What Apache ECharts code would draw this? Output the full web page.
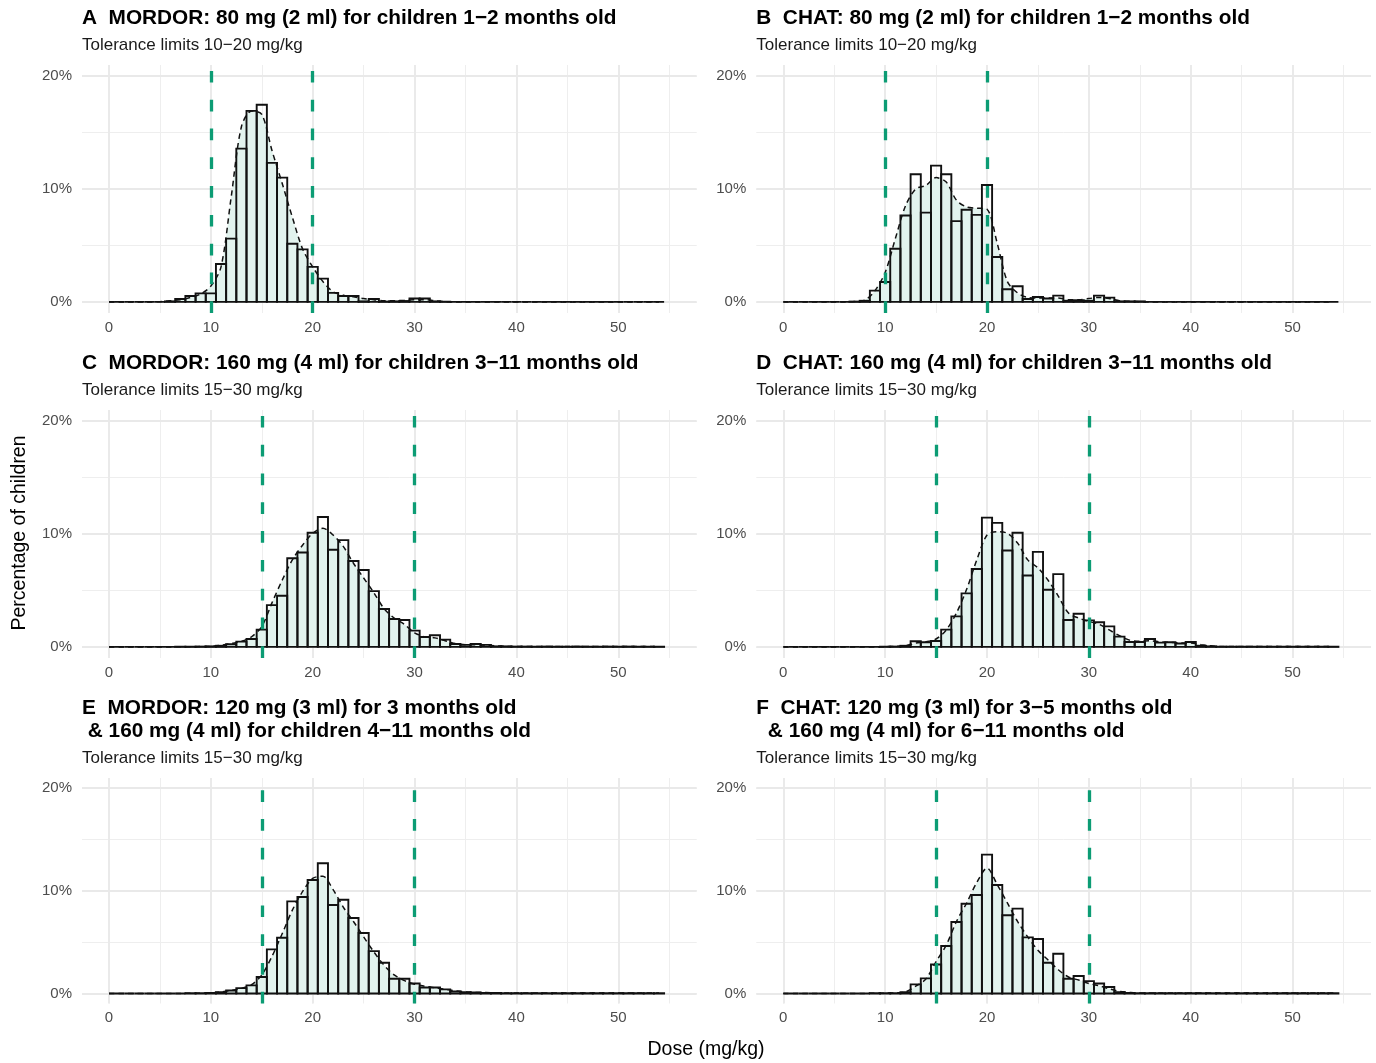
<!DOCTYPE html>
<html><head><meta charset="utf-8">
<script src="https://cdn.jsdelivr.net/npm/echarts@6/dist/echarts.min.js"></script>
<style>html,body{margin:0;padding:0;background:#fff}#c{width:1376px;height:1063px}</style>
</head><body><div id="c"></div>
<script>
// ---------- data ----------
const doses = [0,1,2,3,4,5,6,7,8,9,10,11,12,13,14,15,16,17,18,19,20,21,22,23,24,25,26,27,28,29,
  30,31,32,33,34,35,36,37,38,39,40,41,42,43,44,45,46,47,48,49,50,51,52,53,54];

const histA = [0,0,0,0,0,0,0.05,0.26,0.53,0.76,
  0.76,3.35,5.6,13.56,16.9,17.44,12.3,11.0,5.15,4.65,
  3.1,2.06,0.8,0.53,0.53,0.05,0.26,0.03,0.05,0.08,
  0.3,0.3,0.05,0.02,0,0,0,0,0,0,
  0,0,0,0,0,0,0,0,0,0,
  0,0,0,0,0];
const densA = [0,0,0,0,0,0.02,0.1,0.2,0.4,0.7,
  1.4,3.1,9.3,15.5,16.9,16.6,13.4,10.5,7.5,4.7,
  3.1,1.8,0.9,0.6,0.45,0.3,0.2,0.1,0.1,0.15,
  0.2,0.2,0.1,0.02,0,0,0,0,0,0,
  0,0,0,0,0,0,0,0,0,0,
  0,0,0,0,0];

const histB = [0,0,0,0,0,0,0,0.03,0.1,1.0,
  1.76,4.7,7.65,11.3,7.9,12.06,11.3,7.15,8.15,7.7,
  10.35,3.97,1.12,1.38,0.26,0.44,0.3,0.56,0.1,0.15,
  0.1,0.56,0.38,0.05,0.05,0.05,0,0,0,0,
  0,0,0,0,0,0,0,0,0,0,
  0,0,0,0,0];
const densB = [0,0,0,0,0,0,0,0.03,0.15,1.0,
  2.6,5.6,8.5,10.0,10.3,11.0,10.6,9.0,8.4,8.3,
  8.2,5.2,1.8,0.8,0.4,0.35,0.35,0.35,0.2,0.2,
  0.3,0.4,0.3,0.1,0.05,0.02,0,0,0,0,
  0,0,0,0,0,0,0,0,0,0,
  0,0,0,0,0];

const histC = [0,0,0,0,0,0,0,0.02,0.02,0.03,
  0.05,0.1,0.23,0.47,0.7,1.53,3.7,4.53,7.85,8.35,
  10.1,11.5,8.6,9.45,7.6,6.8,4.94,3.35,2.47,2.38,
  1.44,0.88,1.03,0.65,0.26,0.18,0.26,0.18,0.05,0.05,
  0.03,0.03,0.02,0.03,0.02,0.02,0.03,0.02,0.02,0.03,
  0.02,0.03,0.02,0.02,0.02];
const densC = [0,0,0,0,0,0,0,0.01,0.02,0.03,
  0.05,0.15,0.3,0.5,0.9,1.8,3.9,5.9,7.7,9.0,
  10.05,10.5,9.9,8.9,7.4,6.1,4.8,3.4,2.55,2.0,
  1.25,0.9,0.8,0.55,0.3,0.2,0.2,0.15,0.1,0.05,
  0.03,0.03,0.03,0.03,0.03,0.03,0.03,0.03,0.03,0.03,
  0.03,0.03,0.03,0.03,0.02];

const histD = [0,0,0,0,0,0,0,0,0,0,
  0.02,0.03,0.1,0.5,0.41,0.53,1.53,2.7,4.74,6.9,
  11.44,10.97,8.53,10.1,6.32,8.41,5.06,6.44,2.38,2.94,
  2.35,2.18,1.82,0.91,0.44,0.44,0.7,0.38,0.41,0.3,
  0.44,0.1,0.05,0.02,0.02,0.02,0.02,0.02,0.02,0.02,
  0.02,0.02,0.02,0.02,0.02];
const densD = [0,0,0,0,0,0,0,0,0,0,
  0.02,0.05,0.1,0.35,0.45,0.7,1.5,3.0,5.1,7.7,
  9.9,10.2,10.05,9.2,7.7,7.0,5.9,4.5,3.0,2.55,
  2.26,2.0,1.5,1.0,0.6,0.5,0.55,0.45,0.4,0.35,
  0.35,0.2,0.1,0.03,0.03,0.03,0.03,0.03,0.03,0.03,
  0.03,0.03,0.03,0.03,0.02];

const histE = [0,0,0,0,0,0,0,0,0.02,0.03,
  0.05,0.13,0.29,0.52,0.78,1.6,4.29,5.42,8.96,9.38,
  11.04,12.66,8.6,9.12,7.34,5.88,4.12,2.99,1.43,1.43,
  0.97,0.58,0.58,0.39,0.2,0.13,0.1,0.05,0.05,0.03,
  0.03,0.02,0.02,0.02,0.02,0.02,0.02,0.02,0.02,0.02,
  0.02,0.02,0.02,0.02,0.02];
const densE = [0,0,0,0,0,0,0,0,0.02,0.03,
  0.05,0.15,0.3,0.5,0.85,1.8,3.6,5.8,8.1,9.9,
  11.2,11.4,10.1,8.4,7.0,5.5,4.05,2.75,1.8,1.25,
  0.9,0.7,0.55,0.4,0.25,0.15,0.1,0.1,0.04,0.04,
  0.04,0.04,0.04,0.04,0.04,0.04,0.04,0.04,0.04,0.04,
  0.04,0.04,0.04,0.04,0.03];

const histF = [0,0,0,0,0,0,0,0,0,0.02,
  0.02,0.03,0.13,0.88,1.46,2.82,4.61,6.95,8.73,9.58,
  13.5,10.55,7.6,8.25,5.45,5.29,2.99,3.86,1.43,1.69,
  1.2,0.97,0.62,0.13,0.05,0.03,0.03,0.02,0.02,0.02,
  0.02,0.02,0.02,0.02,0.02,0.02,0.02,0.02,0.02,0.02,
  0.02,0.02,0.02,0.02,0.02];
const densF = [0,0,0,0,0,0,0,0,0,0.02,
  0.03,0.05,0.15,0.7,1.4,3.1,4.7,7.0,8.8,10.8,
  12.2,10.6,8.8,7.0,5.5,4.2,3.25,2.3,1.6,1.3,
  0.97,0.75,0.45,0.2,0.1,0.04,0.04,0.04,0.04,0.04,
  0.04,0.04,0.04,0.04,0.04,0.04,0.04,0.04,0.04,0.04,
  0.04,0.04,0.04,0.04,0.03];

const titlesLine1 = [
  'A  MORDOR: 80 mg (2 ml) for children 1\u22122 months old',
  'B  CHAT: 80 mg (2 ml) for children 1\u22122 months old',
  'C  MORDOR: 160 mg (4 ml) for children 3\u221211 months old',
  'D  CHAT: 160 mg (4 ml) for children 3\u221211 months old',
  'E  MORDOR: 120 mg (3 ml) for 3 months old',
  'F  CHAT: 120 mg (3 ml) for 3\u22125 months old'
];
const titlesLine2 = ['', '', '', '',
  ' & 160 mg (4 ml) for children 4\u221211 months old',
  '  & 160 mg (4 ml) for 6\u221211 months old'];
const subtitles = [
  'Tolerance limits 10\u221220 mg/kg', 'Tolerance limits 10\u221220 mg/kg',
  'Tolerance limits 15\u221230 mg/kg', 'Tolerance limits 15\u221230 mg/kg',
  'Tolerance limits 15\u221230 mg/kg', 'Tolerance limits 15\u221230 mg/kg'
];
const limits = [[10,20],[10,20],[15,30],[15,30],[15,30],[15,30]];
const xTitle = 'Dose (mg/kg)';
const yTitle = 'Percentage of children';

const hists = [histA, histB, histC, histD, histE, histF];
const dens = [densA, densB, densC, densD, densE, densF];

// ---------- layout ----------
const X_MIN = -2.65, X_MAX = 57.7, Y_MIN = -0.98, Y_MAX = 20.96;
const colLeft = [82, 756.3];
const plotW = 614.7;
const rowTop = [65, 410, 778];
const rowH = [248, 248, 225.5];
const titleY = [[18.7], [363.5], [708.5, 731]];
const subY = [45.5, 390.5, 758.8];

const FONT = '"Liberation Sans", Arial, Helvetica, sans-serif';
const GREEN = '#0c9c74';

const grids = [], xAxes = [], yAxes = [], series = [], graphics = [];

function isMult10(v) { return Math.abs(v - Math.round(v / 10) * 10) < 1e-6; }

function renderHist(params, api) {
  const x = api.value(0), y = api.value(1);
  const lo = Math.max(x - 0.5, 0);
  const p0 = api.coord([lo, y]);
  const p1 = api.coord([x + 0.5, 0]);
  return {
    type: 'rect',
    shape: { x: p0[0], y: p0[1], width: p1[0] - p0[0], height: p1[1] - p0[1] },
    style: { fill: 'rgba(0,0,0,0)', stroke: '#111', lineWidth: 1.9 }
  };
}

for (let p = 0; p < 6; p++) {
  const col = p % 2, row = Math.floor(p / 2);
  grids.push({ left: colLeft[col], top: rowTop[row], width: plotW, height: rowH[row] });
  // major x
  xAxes.push({ gridIndex: p, type: 'value', min: X_MIN, max: X_MAX, splitNumber: 6, z: 1,
    axisLine: { show: false, onZero: false }, axisTick: { show: false },
    axisLabel: { margin: 7, color: '#4d4d4d', fontSize: 15, fontFamily: FONT,
      formatter: v => isMult10(v) ? String(Math.round(v)) : '' },
    splitLine: { show: true, showMinLine: false, showMaxLine: false, lineStyle: { color: '#e9e9e9', width: 1.9 } } });
  // minor x
  xAxes.push({ gridIndex: p, type: 'value', min: X_MIN, max: X_MAX, splitNumber: 12, z: 0,
    axisLine: { show: false, onZero: false }, axisTick: { show: false }, axisLabel: { show: false },
    splitLine: { show: true, showMinLine: false, showMaxLine: false, lineStyle: { color: '#eeeeee', width: 1 } } });
  // major y
  yAxes.push({ gridIndex: p, type: 'value', min: Y_MIN, max: Y_MAX, splitNumber: 2, z: 1,
    axisLine: { show: false, onZero: false }, axisTick: { show: false },
    axisLabel: { margin: 10, color: '#4d4d4d', fontSize: 15, fontFamily: FONT,
      formatter: v => isMult10(v) ? Math.round(v) + '%' : '' },
    splitLine: { show: true, showMinLine: false, showMaxLine: false, lineStyle: { color: '#e9e9e9', width: 1.9 } } });
  // minor y
  yAxes.push({ gridIndex: p, type: 'value', min: Y_MIN, max: Y_MAX, splitNumber: 4, z: 0,
    axisLine: { show: false, onZero: false }, axisTick: { show: false }, axisLabel: { show: false },
    splitLine: { show: true, showMinLine: false, showMaxLine: false, lineStyle: { color: '#eeeeee', width: 1 } } });

  const densData = doses.map((d, i) => [d, dens[p][i]]);
  const histData = doses.map((d, i) => [d, hists[p][i]]);
  const xi = 2 * p, yi = 2 * p;

  series.push({ type: 'line', xAxisIndex: xi, yAxisIndex: yi, data: densData, smooth: 0.3,
    showSymbol: false, silent: true, z: 2, lineStyle: { width: 0 },
    areaStyle: { color: '#e2f3ee', opacity: 1 } });
  series.push({ type: 'custom', xAxisIndex: xi, yAxisIndex: yi, data: histData, renderItem: renderHist,
    silent: true, z: 3, clip: true });
  series.push({ type: 'line', xAxisIndex: xi, yAxisIndex: yi, data: densData, smooth: 0.3,
    showSymbol: false, silent: true, z: 4,
    lineStyle: { color: '#111', width: 1.5, type: [5.5, 4] },
    markLine: { silent: true, symbol: 'none', label: { show: false },
      lineStyle: { color: GREEN, width: 3.3, type: [11.7, 17.1] },
      data: limits[p].map(v => ({ xAxis: v })) } });

  // titles
  const tx = colLeft[col];
  graphics.push({ type: 'text', x: tx, y: titleY[row][0], silent: true,
    style: { text: titlesLine1[p], font: 'bold 20.8px ' + FONT, fill: '#000', textVerticalAlign: 'middle' } });
  if (titlesLine2[p]) {
    graphics.push({ type: 'text', x: tx, y: titleY[row][1], silent: true,
      style: { text: titlesLine2[p], font: 'bold 20.8px ' + FONT, fill: '#000', textVerticalAlign: 'middle' } });
  }
  graphics.push({ type: 'text', x: tx, y: subY[row], silent: true,
    style: { text: subtitles[p], font: '17px ' + FONT, fill: '#1a1a1a', textVerticalAlign: 'middle' } });
}

graphics.push({ type: 'text', x: 706, y: 1050, silent: true,
  style: { text: xTitle, font: '19.5px ' + FONT, fill: '#000', textAlign: 'center', textVerticalAlign: 'middle' } });
graphics.push({ type: 'text', x: 19.5, y: 533, rotation: Math.PI / 2, silent: true,
  style: { text: yTitle, font: '19.5px ' + FONT, fill: '#000', textAlign: 'center', textVerticalAlign: 'middle' } });

const chart = echarts.init(document.getElementById('c'), null, { renderer: 'canvas' });
chart.setOption({
  backgroundColor: '#ffffff',
  animation: false,
  grid: grids, xAxis: xAxes, yAxis: yAxes, series: series, graphic: graphics
});
</script></body></html>
